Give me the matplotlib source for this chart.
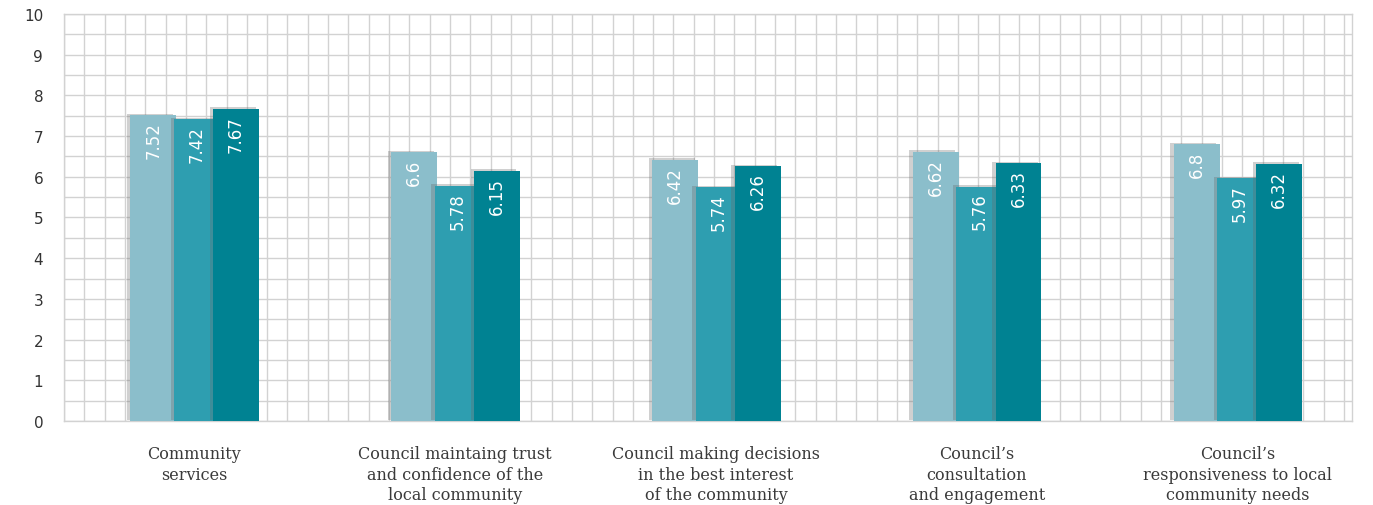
import numpy as np
import matplotlib
matplotlib.use("Agg")
import matplotlib.pyplot as plt
import matplotlib.patheffects as pe

# category labels along the x axis
categories = [
    "Community\nservices",
    "Council maintaing trust\nand confidence of the\nlocal community",
    "Council making decisions\nin the best interest\nof the community",
    "Council\u2019s\nconsultation\nand engagement",
    "Council\u2019s\nresponsiveness to local\ncommunity needs",
]

# three series of scores (light, mid, dark teal)
series_1 = [7.52, 6.6, 6.42, 6.62, 6.8]
series_2 = [7.42, 5.78, 5.74, 5.76, 5.97]
series_3 = [7.67, 6.15, 6.26, 6.33, 6.32]

y_ticks = list(range(0, 11))

colors = ["#8bbecb", "#2e9eb0", "#008292"]
offsets = [-0.157, 0.01, 0.16]
width = 0.176

fig = plt.figure(figsize=(13.73, 5.06), dpi=100)
ax = fig.add_axes([0.0466, 0.166, 0.938, 0.8044])

x = np.arange(len(categories))
grid_col = "#d2d2d2"

# square background grid
for gx in np.arange(-0.5, 4.44, 0.0779):
    ax.axvline(gx, color=grid_col, lw=1.0, zorder=0)
for gy in np.arange(0, 10.01, 0.5):
    ax.axhline(gy, color=grid_col, lw=1.0, zorder=0)

shadow = [pe.SimplePatchShadow(offset=(-2.5, 1), shadow_rgbFace="#666666", alpha=0.3), pe.Normal()]

for vals, off, col in zip([series_1, series_2, series_3], offsets, colors):
    bars = ax.bar(x + off, vals, width=width, color=col, zorder=3)
    for b, v in zip(bars, vals):
        b.set_path_effects(shadow)
        ax.text(b.get_x() + b.get_width() / 2, v - 0.15, f"{v:g}",
                rotation=90, ha="center", va="top", color="white",
                fontsize=12, zorder=4)

ax.set_xlim(-0.5, 4.438)
ax.set_ylim(0, 10)
ax.set_yticks(y_ticks)
ax.set_yticklabels([str(t) for t in y_ticks], fontsize=11, color="#333333")
ax.set_xticks(x)
ax.set_xticklabels(categories, fontfamily="DejaVu Serif", fontsize=11.5,
                   color="#3a3a3a", linespacing=1.3)
ax.tick_params(axis="x", length=0, pad=17)
ax.tick_params(axis="y", length=0, pad=15)
for s in ax.spines.values():
    s.set_color(grid_col)
    s.set_linewidth(1.0)

fig.savefig("out.png", dpi=100)
